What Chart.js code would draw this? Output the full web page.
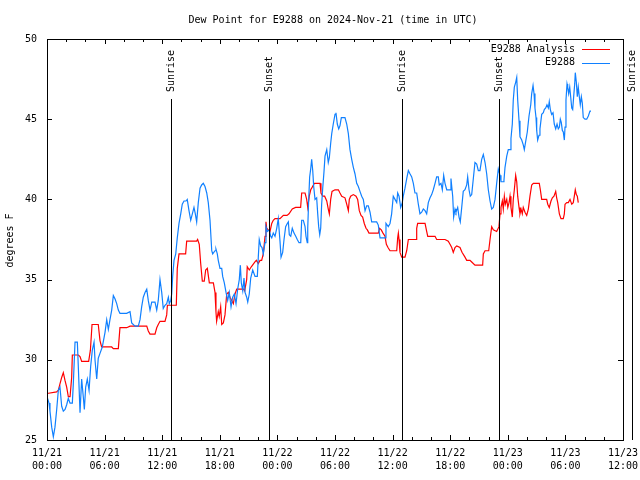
<!DOCTYPE html>
<html>
<head>
<meta charset="utf-8">
<script src="https://cdn.jsdelivr.net/npm/chart.js@4/dist/chart.umd.min.js"></script>
<style>
  html, body { margin: 0; padding: 0; background: #fff; }
  canvas { display: block; }
</style>
</head>
<body>
<canvas id="c" width="640" height="480"></canvas>
<script>
// ---- DATA (hours since 2024-11-21 00:00 UTC, dew point in deg F) ----
const chartTitle = 'Dew Point for E9288 on 2024-Nov-21 (time in UTC)';
const yAxisTitle = 'degrees F';
const seriesNames = ['E9288 Analysis', 'E9288'];

const tickDates = ['11/21','11/21','11/21','11/21','11/22','11/22','11/22','11/22','11/23','11/23','11/23'];
const tickTimes = ['00:00','06:00','12:00','18:00','00:00','06:00','12:00','18:00','00:00','06:00','12:00'];

const sunHours  = [12.92, 23.13, 36.98, 47.08, 60.94];
const sunLabels = ['Sunrise', 'Sunset', 'Sunrise', 'Sunset', 'Sunrise'];

const analysisHours = [
  0,1.0,1.18,1.35,1.53,1.70,1.88,2.05,2.22,2.40,
  2.57,2.64,3.26,3.44,3.61,4.34,4.52,4.69,5.34,5.52,
  5.69,6.74,6.91,7.43,7.60,8.30,8.65,10.39,10.55,10.73,
  11.25,11.43,11.59,11.77,12.29,12.47,12.54,13.47,13.57,13.75,
  14.44,14.55,15.59,15.69,15.86,16.01,16.18,16.38,16.53,16.70,
  16.91,17.33,17.50,17.60,17.67,17.84,17.94,18.09,18.20,18.37,
  18.54,18.72,18.89,19.06,19.24,19.41,19.58,19.76,20.49,20.59,
  20.80,20.86,21.07,21.28,21.66,21.81,22.01,22.19,22.36,22.53,
  22.71,22.81,22.88,23.05,23.23,23.41,23.57,23.75,24.27,24.62,
  25.0,25.21,25.55,25.90,26.42,26.53,26.88,27.05,27.16,27.32,
  27.47,27.57,27.84,28.44,28.54,28.72,28.92,29.14,29.30,29.41,
  29.55,29.69,30.00,30.35,30.52,30.70,31.04,31.22,31.39,31.49,
  31.63,31.91,32.19,32.36,32.53,32.71,32.88,33.05,33.23,33.37,
  33.54,34.51,34.65,34.82,35.0,35.21,35.35,35.52,35.73,36.43,
  36.53,36.60,36.67,36.77,36.95,37.29,37.47,37.64,38.44,38.51,
  38.61,39.38,39.55,39.66,40.42,40.59,41.46,41.80,41.98,42.16,
  42.32,42.50,42.68,43.02,43.23,43.54,43.72,44.06,44.24,44.58,
  45.38,45.45,45.63,46.01,46.15,46.32,46.49,46.84,47.08,47.19,
  47.29,47.43,47.53,47.64,47.74,47.89,48.00,48.13,48.23,48.33,
  48.47,48.57,48.68,48.82,48.93,49.03,49.17,49.27,49.38,49.51,
  49.61,49.79,49.97,50.14,50.31,50.49,50.66,51.28,51.39,51.53,
  52.05,52.16,52.32,52.50,52.64,52.81,52.99,53.09,53.20,53.37,
  53.54,53.78,53.89,53.96,54.14,54.30,54.48,54.66,54.82,54.93,
  55.03,55.14,55.24,55.34
];
const analysisDew = [
  27.9,28.0,28.1,28.5,28.9,29.2,28.7,28.3,27.7,27.7,
  28.9,30.3,30.3,30.2,29.9,29.9,30.6,32.2,32.2,31.2,
  30.8,30.8,30.7,30.7,32.0,32.0,32.1,32.1,31.8,31.6,
  31.6,32.0,32.2,32.4,32.4,32.8,33.4,33.4,35.7,36.6,
  36.6,37.4,37.4,37.5,37.2,36.0,34.9,34.9,35.6,35.7,
  34.8,34.8,34.2,33.0,32.4,33.0,32.7,33.3,32.2,32.3,
  32.8,34.1,34.2,33.9,33.7,33.5,34.1,34.4,34.4,34.3,
  35.0,35.8,35.6,35.8,36.1,36.2,36.0,36.2,36.2,36.6,
  37.7,38.6,38.2,38.1,38.0,38.5,38.7,38.8,38.8,39.0,
  39.0,39.1,39.4,39.5,39.5,40.4,40.4,40.0,39.5,40.2,
  40.6,40.7,41.0,41.0,40.4,40.2,40.2,39.9,39.4,39.1,
  40.0,40.5,40.6,40.6,40.4,40.2,40.1,39.7,39.3,40.0,
  40.2,40.3,40.2,40.0,39.3,39.0,38.9,38.5,38.2,38.1,
  37.9,37.9,38.2,38.1,37.9,37.7,37.2,37.0,36.8,36.8,
  37.6,37.9,37.5,36.7,36.4,36.4,36.8,37.5,37.5,38.2,
  38.5,38.5,38.0,37.7,37.7,37.5,37.5,37.4,37.2,37.0,
  36.7,37.0,37.1,37.0,36.7,36.4,36.2,36.2,36.1,35.9,
  35.9,36.6,36.8,36.8,37.5,38.3,38.1,38.0,38.3,39.1,
  39.5,39.9,39.4,40.2,39.7,40.0,39.5,39.8,40.2,39.5,
  38.9,40.0,40.6,41.5,41.1,40.2,39.5,39.1,39.4,39.1,
  39.5,39.2,39.0,39.4,40.2,40.9,41.0,41.0,40.6,40.0,
  40.0,39.7,39.5,39.9,40.1,40.2,40.5,40.1,39.8,39.1,
  38.8,38.8,39.1,39.7,39.8,39.8,40.0,39.7,39.8,40.2,
  40.6,40.3,40.2,39.8
];

const stationHours = [
  0,0.21,0.31,0.49,0.66,0.83,1.01,1.18,1.35,1.53,
  1.70,1.88,2.05,2.22,2.40,2.64,2.74,2.92,3.16,3.26,
  3.44,3.61,3.78,3.89,4.03,4.20,4.38,4.55,4.72,4.90,
  5.00,5.18,5.34,5.52,5.76,6.04,6.22,6.39,6.56,6.74,
  6.91,7.08,7.26,7.43,7.60,7.95,8.30,8.65,8.82,9.17,
  9.51,9.69,9.86,10.03,10.21,10.39,10.55,10.73,10.91,11.25,
  11.43,11.59,11.77,11.95,12.11,12.29,12.47,12.64,12.74,12.89,
  12.99,13.09,13.23,13.41,13.57,13.75,13.93,14.09,14.27,14.48,
  14.61,14.79,14.97,15.14,15.31,15.45,15.59,15.76,15.94,16.11,
  16.28,16.46,16.64,16.80,16.98,17.16,17.26,17.50,17.60,17.74,
  17.84,18.02,18.20,18.30,18.47,18.65,18.82,18.99,19.17,19.34,
  19.51,19.69,19.86,20.03,20.14,20.24,20.39,20.52,20.63,20.80,
  20.91,21.07,21.22,21.43,21.67,21.91,22.01,22.11,22.26,22.40,
  22.53,22.71,22.81,22.95,23.16,23.30,23.41,23.57,23.75,23.93,
  24.09,24.27,24.38,24.55,24.69,24.86,25.03,25.14,25.24,25.39,
  25.55,25.73,25.91,26.07,26.25,26.43,26.53,26.70,26.88,26.98,
  27.11,27.16,27.26,27.36,27.47,27.57,27.68,27.78,27.92,28.09,
  28.20,28.30,28.41,28.51,28.61,28.72,28.85,28.96,29.14,29.30,
  29.41,29.55,29.66,29.82,30.00,30.10,30.24,30.39,30.52,30.66,
  30.86,31.04,31.22,31.39,31.56,31.74,31.91,32.08,32.26,32.43,
  32.60,32.78,32.95,33.13,33.30,33.47,33.65,33.82,34.34,34.51,
  34.69,35.21,35.31,35.55,35.73,35.90,36.07,36.25,36.43,36.53,
  36.67,36.84,37.01,37.11,37.29,37.47,37.64,37.81,37.99,38.16,
  38.33,38.51,38.68,38.85,39.03,39.20,39.38,39.55,39.72,39.90,
  40.07,40.24,40.42,40.59,40.76,40.86,41.04,41.18,41.32,41.46,
  41.64,41.98,42.08,42.26,42.36,42.50,42.60,42.78,42.92,43.05,
  43.20,43.36,43.54,43.72,43.82,43.96,44.09,44.24,44.41,44.58,
  44.76,44.93,45.10,45.28,45.45,45.63,45.80,45.97,46.15,46.32,
  46.49,46.67,46.84,47.01,47.19,47.29,47.50,47.60,47.71,47.89,
  48.05,48.23,48.33,48.47,48.57,48.68,48.82,48.93,49.03,49.17,
  49.27,49.45,49.61,49.72,49.86,50.03,50.21,50.39,50.49,50.63,
  50.73,50.83,50.94,51.01,51.11,51.25,51.35,51.53,51.70,51.80,
  51.95,52.08,52.22,52.32,52.43,52.57,52.71,52.84,52.99,53.13,
  53.26,53.37,53.47,53.57,53.68,53.78,53.89,53.96,54.06,54.17,
  54.24,54.34,54.45,54.55,54.66,54.76,54.86,54.97,55.03,55.14,
  55.24,55.34,55.45,55.55,55.66,55.76,55.86,56.04,56.22,56.39,
  56.56,56.67
];
const stationDew = [
  27.7,27.3,26.8,25.8,25.2,25.8,26.9,28.1,28.3,27.1,
  26.8,26.9,27.2,27.6,27.3,27.3,28.5,31.1,31.1,29.6,
  26.7,28.8,27.7,26.9,28.3,28.8,28.1,29.6,30.6,31.1,
  30.0,28.8,30.1,30.4,30.8,31.7,32.5,31.9,32.5,33.1,
  34.0,33.8,33.5,33.1,32.9,32.9,32.9,33.0,32.3,32.1,
  32.1,32.5,33.3,33.9,34.2,34.4,33.7,33.1,33.6,33.6,
  33.1,33.7,35.0,34.2,33.2,33.4,33.5,33.9,33.5,33.7,
  34.1,35.2,36.2,36.6,37.6,38.5,39.1,39.7,39.9,39.9,
  40.0,39.3,38.7,39.1,39.5,39.1,38.6,39.8,40.7,40.9,
  41.0,40.8,40.4,39.8,38.7,36.8,36.6,36.8,36.9,36.6,
  36.2,35.7,35.7,35.2,34.8,34.2,33.7,34.2,33.3,33.9,
  34.1,33.5,34.4,35.0,35.9,34.8,34.3,35.1,34.2,33.9,
  33.6,34.1,35.1,35.6,35.2,35.2,36.4,37.5,37.1,37.0,
  36.6,37.3,38.3,38.0,38.1,37.7,37.6,37.9,37.7,38.2,
  38.8,37.4,36.4,36.7,37.5,38.3,38.5,38.6,37.8,37.7,
  38.2,37.9,37.7,37.5,37.3,37.3,38.7,38.7,38.3,37.7,
  37.3,38.2,40.0,41.4,41.9,42.5,41.8,40.8,40.0,40.1,
  39.1,38.3,37.8,38.2,39.7,40.7,41.7,42.7,43.1,42.3,
  42.6,43.5,44.1,44.7,45.3,45.4,44.7,44.4,44.6,45.1,
  45.1,45.1,44.7,44.1,43.1,42.5,42.0,41.6,41.0,40.8,
  40.5,40.2,40.0,39.3,39.6,39.6,39.2,38.6,38.6,38.4,
  37.6,37.6,38.5,38.3,38.5,39.1,40.2,40.0,39.8,40.4,
  40.2,39.5,39.8,40.2,40.7,41.3,41.8,41.6,41.4,41.0,
  40.4,40.4,39.7,39.1,39.2,39.4,39.3,39.1,39.8,40.1,
  40.3,40.6,41.0,41.4,41.4,40.9,41.0,40.6,41.5,41.0,
  40.6,40.6,41.3,40.2,38.9,39.4,39.2,39.5,38.9,38.6,
  39.5,40.5,40.6,40.9,41.4,40.6,40.2,40.3,41.3,42.3,
  42.2,41.8,41.8,42.5,42.8,42.3,41.6,40.6,39.9,39.4,
  39.5,40.0,41.0,41.9,41.5,41.1,41.1,41.2,42.0,42.7,
  43.1,43.1,43.8,44.7,46.2,47.0,47.3,47.6,46.2,44.9,
  43.9,43.7,43.4,43.1,43.6,44.2,45.2,45.9,46.6,47.1,
  46.6,45.7,45.1,44.3,43.7,44.0,44.4,45.3,45.4,45.6,
  45.7,45.9,45.7,46.1,45.6,45.3,45.4,44.7,44.4,44.7,
  44.4,44.5,45.0,44.8,44.3,44.2,43.7,44.5,46.2,47.2,
  47.0,46.6,47.0,46.4,45.7,45.6,46.4,47.2,47.9,47.3,
  46.4,47.0,46.4,45.9,46.4,46.0,45.1,45.0,45.0,45.2,
  45.5,45.5
];

// ---- STYLE ----
const FAMILY = '"DejaVu Sans Mono", "Liberation Mono", monospace';
const FONT = '10px ' + FAMILY;
const colors = ['#ff0000', '#1080ff'];

function toPoints(hours, vals) {
  const n = Math.min(hours.length, vals.length);
  const out = [];
  for (let i = 0; i < n; i++) out.push({ x: hours[i], y: vals[i] });
  return out;
}

const decor = {
  id: 'decor',
  afterDatasetsDraw(chart) {
    const { ctx, chartArea: a, scales: { x } } = chart;
    ctx.save();
    ctx.strokeStyle = '#000';
    ctx.fillStyle = '#000';
    ctx.lineWidth = 1;
    ctx.font = FONT;
    sunHours.forEach((h, i) => {
      const px = Math.round(x.getPixelForValue(h)) + 0.5;
      ctx.beginPath();
      ctx.moveTo(px, a.top + 60);
      ctx.lineTo(px, a.bottom);
      ctx.stroke();
      ctx.save();
      ctx.translate(px, a.top + 53);
      ctx.rotate(-Math.PI / 2);
      ctx.textAlign = 'left';
      ctx.textBaseline = 'middle';
      ctx.fillText(sunLabels[i], 0, 0);
      ctx.restore();
    });
    ctx.restore();
  },
  afterDraw(chart) {
    const { ctx, chartArea: a, scales: { x, y } } = chart;
    ctx.save();
    ctx.strokeStyle = '#000';
    ctx.fillStyle = '#000';
    ctx.lineWidth = 1;
    // frame
    ctx.strokeRect(a.left + 0.5, a.top + 0.5, a.right - a.left, a.bottom - a.top);
    // x ticks (major every 6 h, minor every 2 h), mirrored on top
    ctx.beginPath();
    for (let h = 0; h <= 60; h += 2) {
      const px = Math.round(x.getPixelForValue(h)) + 0.5;
      const len = (h % 6 === 0) ? 5 : 3;
      ctx.moveTo(px, a.bottom); ctx.lineTo(px, a.bottom - len);
      ctx.moveTo(px, a.top); ctx.lineTo(px, a.top + len);
    }
    for (let v = 25; v <= 50; v += 5) {
      const py = Math.round(y.getPixelForValue(v)) + 0.5;
      ctx.moveTo(a.left, py); ctx.lineTo(a.left + 5, py);
      ctx.moveTo(a.right, py); ctx.lineTo(a.right - 5, py);
    }
    ctx.stroke();
    ctx.font = FONT;
    // title
    ctx.textAlign = 'center';
    ctx.textBaseline = 'middle';
    ctx.fillText(chartTitle, (a.left + a.right) / 2 - 2, 20);
    // y axis title
    ctx.save();
    ctx.translate(10, (a.top + a.bottom) / 2 + 1);
    ctx.rotate(-Math.PI / 2);
    ctx.fillText(yAxisTitle, 0, 0);
    ctx.restore();
    // legend
    ctx.textAlign = 'right';
    seriesNames.forEach((name, i) => {
      const ty = a.top + 10 + i * 13.5;
      ctx.fillStyle = '#000';
      ctx.fillText(name, a.right - 48, ty);
      ctx.strokeStyle = colors[i];
      ctx.beginPath();
      ctx.moveTo(a.right - 41, Math.round(ty) + 0.5);
      ctx.lineTo(a.right - 13, Math.round(ty) + 0.5);
      ctx.stroke();
    });
    ctx.restore();
  }
};

new Chart(document.getElementById('c'), {
  type: 'line',
  data: {
    datasets: [
      { label: seriesNames[1], data: toPoints(stationHours, stationDew), borderColor: colors[1],
        borderWidth: 1.2, pointRadius: 0, tension: 0, fill: false, order: 0 },
      { label: seriesNames[0], data: toPoints(analysisHours, analysisDew), borderColor: colors[0],
        borderWidth: 1.2, pointRadius: 0, tension: 0, fill: false, order: 1 }
    ]
  },
  options: {
    responsive: false,
    animation: false,
    devicePixelRatio: 1,
    layout: { padding: { top: 39, right: 17, left: 0, bottom: 0 } },
    plugins: { legend: { display: false }, tooltip: { enabled: false }, title: { display: false } },
    events: [],
    scales: {
      x: {
        type: 'linear', min: 0, max: 60,
        grid: { display: false, drawTicks: false },
        border: { display: false },
        ticks: {
          stepSize: 6, autoSkip: false, maxRotation: 0, minRotation: 0, padding: 7, color: '#000',
          font: { family: FAMILY, size: 10, lineHeight: 1.3 },
          callback: (v) => { const i = Math.round(v / 6); return [tickDates[i], tickTimes[i]]; }
        },
        afterFit(s) { s.height = 40; s.paddingLeft = 0; s.paddingRight = 0; }
      },
      y: {
        min: 25, max: 50,
        grid: { display: false, drawTicks: false },
        border: { display: false },
        ticks: {
          stepSize: 5, padding: 10, color: '#000',
          font: { family: FAMILY, size: 10 }
        },
        afterFit(s) { s.width = 47; s.paddingTop = 0; s.paddingBottom = 0; }
      }
    }
  },
  plugins: [decor]
});
</script>
</body>
</html>
